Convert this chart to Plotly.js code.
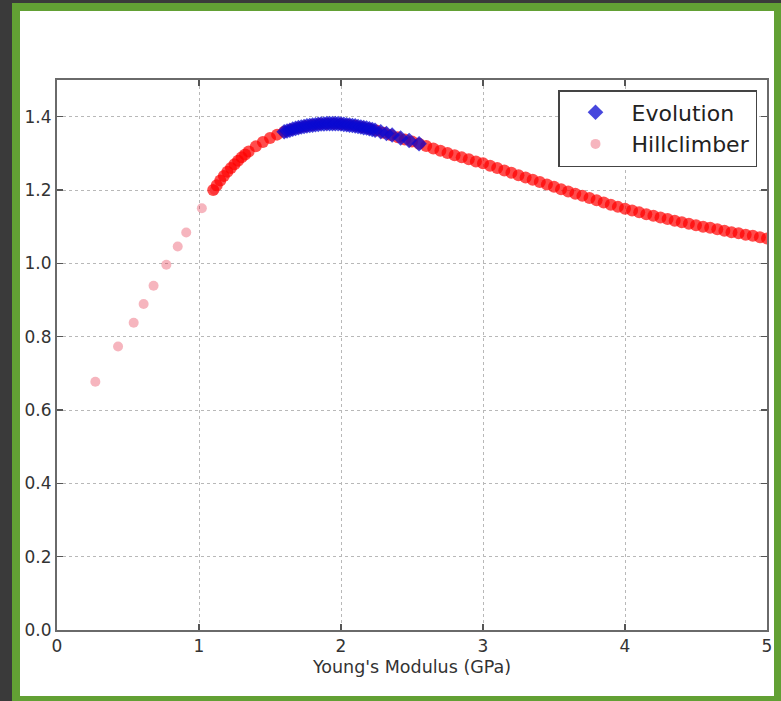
<!DOCTYPE html>
<html><head><meta charset="utf-8">
<script src="https://cdn.plot.ly/plotly-3.0.1.min.js"></script>
<style>html,body{margin:0;padding:0;background:#3a3a3a}#chart{width:781px;height:701px}</style>
</head><body><div id="chart"></div>
<script>
// ---- data ----
const hillSparseX = [0.27, 0.43, 0.54, 0.61, 0.68, 0.77, 0.85, 0.91, 1.02, 1.11];
const hillSparseY = [0.677, 0.773, 0.838, 0.889, 0.939, 0.996, 1.046, 1.084, 1.150, 1.200];

const hillX = [1.10,1.125,1.15,1.175,1.20,1.225,1.25,1.275,1.30,1.325,1.35,1.40,1.45,1.50,1.55,1.60,1.65,1.70,1.75,1.80,1.85,1.90,1.95,2.00,2.05,2.10,2.15,2.20,2.25,2.30,2.35,2.40,2.45,2.50,2.55,2.60,2.65,2.70,2.75,2.80,2.85,2.90,2.95,3.00,3.05,3.10,3.15,3.20,3.25,3.30,3.35,3.40,3.45,3.50,3.55,3.60,3.65,3.70,3.75,3.80,3.85,3.90,3.95,4.00,4.05,4.10,4.15,4.20,4.25,4.30,4.35,4.40,4.45,4.50,4.55,4.60,4.65,4.70,4.75,4.80,4.85,4.90,4.95,5.00];
const hillY = [1.200,1.213,1.226,1.238,1.250,1.260,1.270,1.280,1.289,1.297,1.305,1.319,1.331,1.342,1.351,1.359,1.365,1.370,1.374,1.377,1.380,1.381,1.381,1.380,1.378,1.375,1.371,1.367,1.362,1.356,1.350,1.344,1.338,1.332,1.326,1.320,1.313,1.307,1.301,1.295,1.289,1.284,1.278,1.273,1.266,1.260,1.253,1.247,1.240,1.234,1.228,1.222,1.215,1.209,1.202,1.196,1.190,1.184,1.178,1.172,1.166,1.160,1.154,1.149,1.144,1.139,1.134,1.130,1.125,1.121,1.116,1.112,1.108,1.104,1.100,1.097,1.093,1.089,1.085,1.082,1.078,1.075,1.071,1.068];

const evoX = [1.60,1.62,1.64,1.66,1.68,1.70,1.72,1.74,1.76,1.78,1.80,1.82,1.84,1.86,1.88,1.90,1.92,1.94,1.96,1.98,2.00,2.02,2.04,2.06,2.08,2.10,2.12,2.14,2.16,2.18,2.20,2.22,2.24,2.28,2.32,2.36,2.42,2.48,2.55];
const evoY = [1.359,1.361,1.363,1.366,1.368,1.370,1.372,1.373,1.375,1.376,1.377,1.378,1.379,1.380,1.380,1.381,1.381,1.381,1.381,1.381,1.380,1.379,1.378,1.377,1.376,1.375,1.373,1.372,1.370,1.369,1.367,1.365,1.363,1.359,1.354,1.350,1.342,1.335,1.326];

const xTickVals = [0, 1, 2, 3, 4, 5];
const xTickText = ['0', '1', '2', '3', '4', '5'];
const yTickVals = [0, 0.2, 0.4, 0.6, 0.8, 1.0, 1.2, 1.4];
const yTickText = ['0.0', '0.2', '0.4', '0.6', '0.8', '1.0', '1.2', '1.4'];

// ---- layout helpers (pixel -> paper) ----
const W = 781, H = 701, ML = 57, MR = 14, MT = 80, MB = 71;
const pw = W - ML - MR, ph = H - MT - MB;
const px = p => (p - ML) / pw;
const py = p => (H - MB - p) / ph;

const traces = [
  {x: hillSparseX, y: hillSparseY, type: 'scatter', mode: 'markers', name: 'Hillclimber',
   legendgroup: 'h', legendrank: 2,
   marker: {symbol: 'circle', size: 10, color: 'rgb(225,10,40)', opacity: 0.3}},
  {x: hillX, y: hillY, type: 'scatter', mode: 'markers', name: 'Hillclimber',
   legendgroup: 'h', showlegend: false,
   marker: {symbol: 'circle', size: 12, color: 'rgb(255,0,0)', opacity: 0.7}},
  {x: evoX, y: evoY, type: 'scatter', mode: 'markers', name: 'Evolution',
   legendgroup: 'e', legendrank: 1,
   marker: {symbol: 'diamond', size: 12, color: 'rgb(10,10,210)', opacity: 0.75}}
];

const axisCommon = {
  showline: true, linecolor: '#6a6a6a', linewidth: 2, mirror: 'ticks',
  ticks: 'inside', ticklen: 6, tickwidth: 1.5, tickcolor: '#555',
  showgrid: true, gridcolor: '#b8b8b8', griddash: 'dot', gridwidth: 1,
  zeroline: false, tickfont: {family: 'DejaVu Sans', size: 17, color: '#333'}
};

const layout = {
  width: W, height: H,
  margin: {l: ML, r: MR, t: MT, b: MB},
  paper_bgcolor: '#3a3a3a', plot_bgcolor: '#ffffff',
  showlegend: true,
  xaxis: Object.assign({}, axisCommon, {
    range: [0, 5], tickvals: xTickVals, ticktext: xTickText,
    title: {text: "Young's Modulus (GPa)", font: {family: 'DejaVu Sans', size: 17.5, color: '#333'}, standoff: 5}
  }),
  yaxis: Object.assign({}, axisCommon, {
    range: [0, 1.5], tickvals: yTickVals, ticktext: yTickText
  }),
  legend: {
    x: px(757), y: py(90), xanchor: 'right', yanchor: 'top',
    bgcolor: '#ffffff', bordercolor: '#444', borderwidth: 1.5,
    font: {family: 'DejaVu Sans', size: 22, color: '#222'},
    itemwidth: 62, tracegroupgap: 0, traceorder: 'normal'
  },
  shapes: [
    {type: 'rect', xref: 'paper', yref: 'paper', layer: 'below',
     x0: px(12), x1: px(781), y0: py(701), y1: py(3),
     fillcolor: '#62a034', line: {width: 0}},
    {type: 'rect', xref: 'paper', yref: 'paper', layer: 'below',
     x0: px(20), x1: px(774), y0: py(696), y1: py(11),
     fillcolor: '#ffffff', line: {width: 0}}
  ]
};

Plotly.newPlot('chart', traces, layout, {displayModeBar: false, staticPlot: true});
</script>
</body></html>
